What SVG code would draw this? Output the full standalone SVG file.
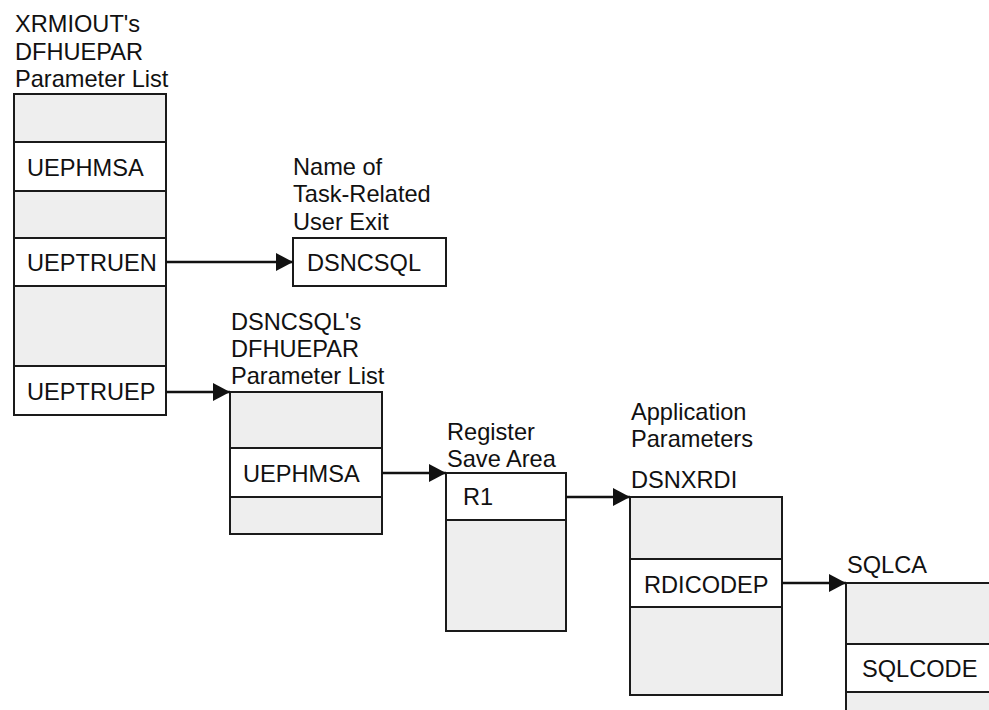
<svg xmlns="http://www.w3.org/2000/svg" width="989" height="710" viewBox="0 0 989 710">
<style>
text{font-family:"Liberation Sans",Arial,sans-serif;font-size:23.6px;fill:#111}
.g{fill:#eeeeee;stroke:#1a1a1a;stroke-width:2}
.w{fill:#ffffff;stroke:#1a1a1a;stroke-width:2}
.c{stroke:#111;stroke-width:2.5;fill:none}
</style>
<defs>
<marker id="ah" viewBox="0 0 17 18" refX="17" refY="9" markerWidth="17" markerHeight="18" markerUnits="userSpaceOnUse" orient="auto">
<path d="M0,0 L17,9 L0,18 Z" fill="#111"/>
</marker>
</defs>
<rect width="989" height="710" fill="#fff"/>

<g id="xrmiout">
<text x="15" y="32">XRMIOUT's</text>
<text x="15" y="60">DFHUEPAR</text>
<text x="15" y="87">Parameter List</text>
<rect class="g" x="14" y="94" width="152" height="48"/>
<rect class="w" x="14" y="142" width="152" height="49"/>
<rect class="g" x="14" y="191" width="152" height="47"/>
<rect class="w" x="14" y="238" width="152" height="48"/>
<rect class="g" x="14" y="286" width="152" height="80"/>
<rect class="w" x="14" y="366" width="152" height="49"/>
<text x="27" y="176">UEPHMSA</text>
<text x="27" y="271">UEPTRUEN</text>
<text x="27" y="400">UEPTRUEP</text>
</g>

<g id="true-name">
<text x="293" y="175">Name of</text>
<text x="293" y="202">Task-Related</text>
<text x="293" y="230">User Exit</text>
<rect class="w" x="293" y="238" width="153" height="48"/>
<text x="307" y="271">DSNCSQL</text>
</g>

<g id="dsncsql-parm">
<text x="231" y="330">DSNCSQL's</text>
<text x="231" y="357">DFHUEPAR</text>
<text x="231" y="384">Parameter List</text>
<rect class="g" x="230" y="392" width="152" height="56"/>
<rect class="w" x="230" y="448" width="152" height="49"/>
<rect class="g" x="230" y="497" width="152" height="37"/>
<text x="243" y="482">UEPHMSA</text>
</g>

<g id="rsa">
<text x="447" y="440">Register</text>
<text x="447" y="467">Save Area</text>
<rect class="w" x="446" y="473" width="120" height="47"/>
<rect class="g" x="446" y="520" width="120" height="111"/>
<text x="463" y="505">R1</text>
</g>

<g id="dsnxrdi">
<text x="631" y="420">Application</text>
<text x="631" y="447">Parameters</text>
<text x="631" y="488">DSNXRDI</text>
<rect class="g" x="630" y="497" width="152" height="62"/>
<rect class="w" x="630" y="559" width="152" height="48"/>
<rect class="g" x="630" y="607" width="152" height="88"/>
<text x="644" y="593">RDICODEP</text>
</g>

<g id="sqlca">
<text x="847" y="573">SQLCA</text>
<rect class="g" x="846" y="583" width="160" height="61"/>
<rect class="w" x="846" y="644" width="160" height="48"/>
<rect class="g" x="846" y="692" width="160" height="40"/>
<text x="862" y="677">SQLCODE</text>
</g>

<g id="connectors">
<line class="c" x1="166" y1="262" x2="293" y2="262" marker-end="url(#ah)"/>
<line class="c" x1="166" y1="392" x2="230" y2="392" marker-end="url(#ah)"/>
<line class="c" x1="382" y1="473" x2="446" y2="473" marker-end="url(#ah)"/>
<line class="c" x1="566" y1="497" x2="630" y2="497" marker-end="url(#ah)"/>
<line class="c" x1="782" y1="583" x2="846" y2="583" marker-end="url(#ah)"/>
</g>
</svg>
